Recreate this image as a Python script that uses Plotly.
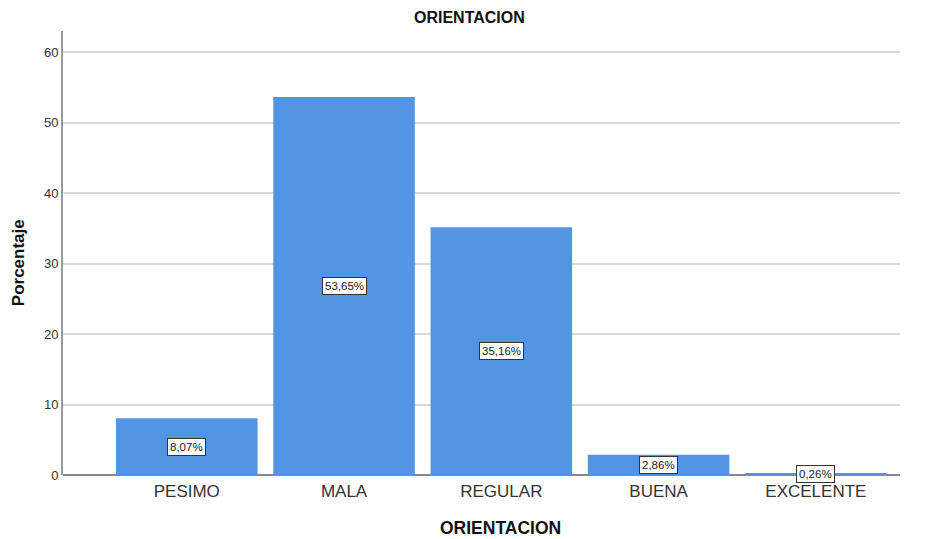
import plotly.graph_objects as go

categories = ["PESIMO", "MALA", "REGULAR", "BUENA", "EXCELENTE"]
values = [8.07, 53.65, 35.16, 2.86, 0.26]
labels = ["8,07%", "53,65%", "35,16%", "2,86%", "0,26%"]
y_ticks = [0, 10, 20, 30, 40, 50, 60]

FONT = "Arial, Liberation Sans"

fig = go.Figure()
fig.add_trace(go.Bar(
    x=categories, y=values, width=0.9,
    marker=dict(color="#5394E3", line=dict(width=0)),
    hoverinfo="skip",
))

for c, v, t in zip(categories, values, labels):
    fig.add_annotation(
        x=c, y=v / 2, text=t, showarrow=False,
        font=dict(family=FONT, size=11.5, color="#222"),
        bgcolor="white", bordercolor="#333", borderwidth=1, borderpad=2,
    )

# titles as annotations for exact placement
fig.add_annotation(text="<b>ORIENTACION</b>", xref="paper", yref="paper", x=0.486, y=1,
                   yshift=14, showarrow=False, yanchor="middle", borderpad=0,
                   font=dict(family=FONT, size=16, color="#111"))
fig.add_annotation(text="<b>ORIENTACION</b>", xref="paper", yref="paper", x=0.523, y=0,
                   yshift=-53, showarrow=False, yanchor="middle",
                   font=dict(family=FONT, size=17.5, color="#111"))
fig.add_annotation(text="<b>Porcentaje</b>", xref="paper", yref="paper", x=0, y=0.477,
                   xshift=-45, showarrow=False, xanchor="center", textangle=-90,
                   font=dict(family=FONT, size=17, color="#111"))

fig.update_layout(
    width=925, height=539,
    margin=dict(l=55, r=33, t=23, b=72, autoexpand=False),
    paper_bgcolor="white", plot_bgcolor="white",
    showlegend=False,
    font=dict(family=FONT, color="#333"),
)
fig.update_xaxes(
    range=[-0.787, 4.535], automargin=False,
    showline=False, showgrid=False, ticks="", ticklabelstandoff=4,
    tickfont=dict(size=17, color="#333"),
)
fig.update_yaxes(
    range=[0, 63], tickvals=y_ticks, automargin=False,
    showgrid=True, gridcolor="#d9d9d9", gridwidth=2,
    showline=True, linecolor="#9a9a9a", linewidth=2,
    zeroline=True, zerolinecolor="#888", zerolinewidth=1.5,
    ticks="", tickfont=dict(size=13, color="#333"),
)

fig.write_html("out.html")
